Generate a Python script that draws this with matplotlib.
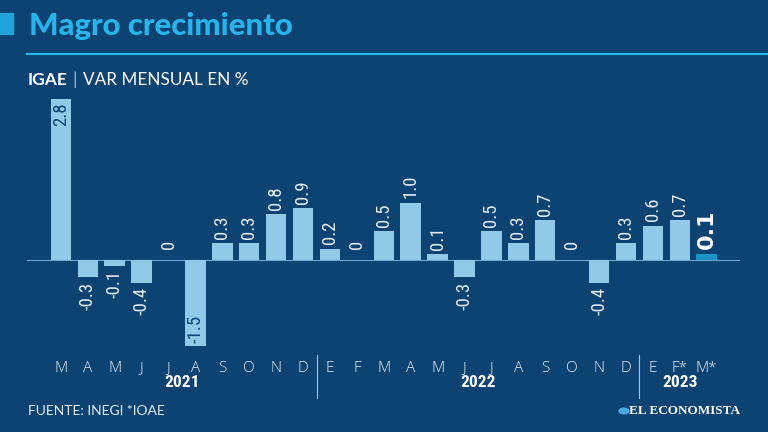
import matplotlib
matplotlib.use("Agg")
import matplotlib.pyplot as plt
from matplotlib import font_manager as fm

months = ["M", "A", "M", "J", "J", "A", "S", "O", "N", "D",
          "E", "F", "M", "A", "M", "J", "J", "A", "S", "O", "N", "D",
          "E", "F*", "M*"]
values = [2.8, -0.3, -0.1, -0.4, 0.0, -1.5, 0.3, 0.3, 0.8, 0.9,
          0.2, 0.0, 0.5, 1.0, 0.1, -0.3, 0.5, 0.3, 0.7, 0.0, -0.4, 0.3,
          0.6, 0.7, 0.1]
labels = ["2.8", "-0.3", "-0.1", "-0.4", "0", "-1.5", "0.3", "0.3", "0.8", "0.9",
          "0.2", "0", "0.5", "1.0", "0.1", "-0.3", "0.5", "0.3", "0.7", "0", "-0.4", "0.3",
          "0.6", "0.7", "0.1"]
years = ["2021", "2022", "2023"]
year_counts = [10, 12, 3]

BG = "#0d4373"
BAR = "#92c9e8"
LAST = "#1b93c4"
CYAN = "#27b5ec"
TXT = "#e6eef5"


def find_condensed(bold=False):
    best = None
    for f in fm.fontManager.ttflist:
        name = f.fname.lower()
        is_cond = ("condensed" in name or "narrow" in name or
                   str(f.stretch) in ("condensed", "semi-condensed", "extra-condensed"))
        if not is_cond or f.style != "normal":
            continue
        w = f.weight if isinstance(f.weight, int) else (700 if "bold" in str(f.weight) else 400)
        if bold != (w >= 600):
            continue
        score = 0
        if "dejavusans" in name.replace(" ", "").replace("-", ""):
            score = 2
        if "liberation" in name or "roboto" in name:
            score = 3
        if best is None or score > best[0]:
            best = (score, f.fname)
    if best:
        return fm.FontProperties(fname=best[1])
    return fm.FontProperties(family="DejaVu Sans", weight="bold" if bold else "normal")


cond = find_condensed(False)
cond_b = find_condensed(True)

W, H = 768, 432
fig = plt.figure(figsize=(W / 100, H / 100), dpi=100, facecolor=BG)


def fx(x):
    return x / W


def fy(y):
    return 1 - y / H


ax_l, ax_r, ax_t, ax_b = 27, 740, 90, 350
ax = fig.add_axes([fx(ax_l), fy(ax_b), (ax_r - ax_l) / W, (ax_b - ax_t) / H])
ax.set_facecolor(BG)
n = len(values)
x = list(range(n))
colors = [BAR] * (n - 1) + [LAST]
ax.bar(x, values, width=0.76, color=colors, zorder=2)
ax.axhline(0, color="#6fa6cf", lw=0.8, zorder=1)
YMIN, YMAX = -1.565, 2.96
ax.set_xlim(-1.26, 25.24)
ax.set_ylim(YMIN, YMAX)
ax.axis("off")

for i, (v, lab) in enumerate(zip(values, labels)):
    if i == n - 1:
        ax.annotate(lab, (i, v), xytext=(0, 4), textcoords="offset points",
                    rotation=90, ha="center", va="bottom", color="white",
                    fontsize=16, fontweight="bold", family="DejaVu Sans")
        continue
    fp = cond.copy()
    fp.set_size(13.5)
    if v >= 2.5:
        ax.annotate(lab, (i, v), xytext=(0, -2), textcoords="offset points",
                    rotation=90, ha="center", va="top", color=BG, fontproperties=fp)
    elif v <= -1.2:
        ax.annotate(lab, (i, v), xytext=(0, 2), textcoords="offset points",
                    rotation=90, ha="center", va="bottom", color=BG, fontproperties=fp)
    elif v >= 0:
        ax.annotate(lab, (i, v), xytext=(0, 8 if v == 0 else 3), textcoords="offset points",
                    rotation=90, ha="center", va="bottom", color=TXT, fontproperties=fp)
    else:
        ax.annotate(lab, (i, v), xytext=(0, -3), textcoords="offset points",
                    rotation=90, ha="center", va="top", color=TXT, fontproperties=fp)

for i, m in enumerate(months):
    ax.text(i, YMIN - 19 / 57.5, m, ha="center", va="center", color=TXT,
            fontsize=11, family="Open Sans", fontweight="light", clip_on=False)

start = 0
for k, (yr, cnt) in enumerate(zip(years, year_counts)):
    center = start + (cnt - 1) / 2
    fp = cond_b.copy()
    fp.set_size(12.5)
    ax.text(center, YMIN - 33 / 57.5, yr, ha="center", va="center", color="white",
            fontproperties=fp, clip_on=False)
    if k > 0:
        xs = start - 0.5
        ax.plot([xs, xs], [YMIN - 5 / 57.5, YMIN - 48 / 57.5], color="#a9c6df",
                lw=0.8, clip_on=False)
    start += cnt

fig.patches.append(plt.Rectangle((0, fy(34)), fx(13), 21 / H, transform=fig.transFigure,
                                 color="#1fa3da", zorder=3))
fig.text(fx(29), fy(26), "Magro crecimiento", color=CYAN, fontsize=22.4,
         fontweight="black", family="Lato", va="center", ha="left")
fig.add_artist(plt.Line2D([fx(27), 1], [fy(54), fy(54)], color=CYAN, lw=1.5,
                          transform=fig.transFigure))
fig.text(fx(28), fy(80), "IGAE", color="white", fontsize=12.5, fontweight="bold",
         family="Lato", va="center", ha="left")
fig.text(fx(72), fy(80), "|", color="#9bbad6", fontsize=13, family="Lato",
         va="center", ha="left")
fig.text(fx(83), fy(80), "VAR MENSUAL EN %", color="white", fontsize=12.3,
         family="Lato", va="center", ha="left")

fig.text(fx(28), fy(411), "FUENTE: INEGI *IOAE", color=TXT, fontsize=10,
         family="Lato", va="center", ha="left")
fig.text(fx(740), fy(411), "EL ECONOMISTA", color="white", fontsize=9.5,
         fontweight="bold", family="Liberation Serif", va="center", ha="right")
fig.add_artist(plt.Circle((fx(624), fy(411)), 5 / W, color="#4aa8e0",
                          transform=fig.transFigure))

fig.savefig("out.png", dpi=100, facecolor=BG)
